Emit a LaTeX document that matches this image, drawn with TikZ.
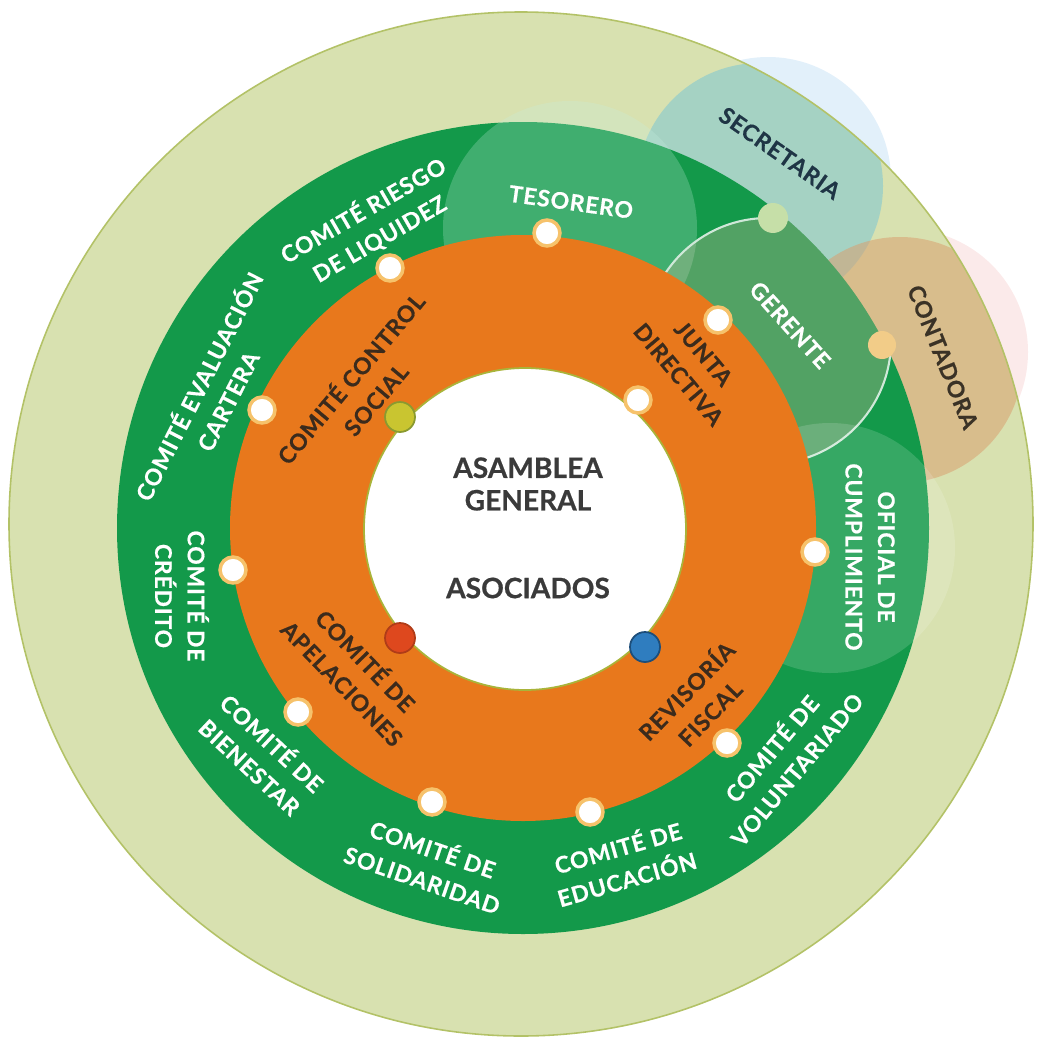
\documentclass[tikz,border=0pt]{standalone}
\usepackage{fontspec}
\setmainfont{Lato}[BoldFeatures={FakeBold=0.6}]
\newfontfamily\lblfont[LetterSpace=4.0, BoldFeatures={FakeBold=0.6}]{Lato}
\definecolor{pale}{HTML}{D8E1B0}
\definecolor{rim}{HTML}{B3C267}
\definecolor{ringgreen}{HTML}{13994A}
\definecolor{ringorange}{HTML}{E8781C}
\definecolor{innerrim}{HTML}{A9B43A}
\definecolor{secfill}{HTML}{7CC6D4}
\definecolor{secfaint}{HTML}{A0CDF0}
\definecolor{confill}{HTML}{D8A070}
\definecolor{confaint}{HTML}{F0AAAA}
\definecolor{tesfill}{HTML}{C8F0E0}
\definecolor{gerfill}{HTML}{C8B496}
\definecolor{gerline}{HTML}{CFE8D8}
\definecolor{dottrim}{HTML}{F6C26B}
\definecolor{dotolive}{HTML}{C9C530}
\definecolor{dotolivetrim}{HTML}{8A9A30}
\definecolor{dotred}{HTML}{DE481E}
\definecolor{dotredtrim}{HTML}{B03C18}
\definecolor{dotblue}{HTML}{2F7DBF}
\definecolor{dotbluetrim}{HTML}{1D4E7A}
\definecolor{dotsec}{HTML}{C6DFA8}
\definecolor{dotcon}{HTML}{F2CC88}
\definecolor{inkbrown}{HTML}{3B2B1C}
\definecolor{inksec}{HTML}{1F3545}
\definecolor{inkcon}{HTML}{3A3226}
\definecolor{inkmid}{HTML}{3A3A3A}
\begin{document}
\begin{tikzpicture}[x=0.02cm, y=-0.02cm,
  lbl/.style={font=\lblfont\bfseries\fontsize{13}{18.5}\selectfont, align=center, inner sep=0pt, text=white},
  dark/.style={lbl, text=inkbrown},
  mid/.style={font=\bfseries\fontsize{16}{18.5}\selectfont, align=center, inner sep=0pt, text=inkmid},
  wdot/.style={circle, inner sep=0pt, minimum size=0.52cm, fill=white, draw=dottrim, line width=2pt},
  cdot/.style={circle, inner sep=0pt, minimum size=0.6cm, line width=1pt}]
\useasboundingbox (0,0) rectangle (1037,1041);
\fill[secfaint, fill opacity=0.3] (768,180) circle (123);
\fill[confaint, fill opacity=0.25] (905,352) circle (123);
\fill[pale] (521,524) circle (512);
\begin{scope}
\clip (521,524) circle (512);
\fill[secfill, fill opacity=0.55] (760,186) circle (123);
\fill[confill, fill opacity=0.55] (900,360) circle (123);
\end{scope}
\draw[rim, line width=0.9pt] (521,524) circle (512);
\fill[ringgreen] (523,528) circle (406);
\fill[tesfill, fill opacity=0.25] (570,228) circle (127);
\begin{scope}
\clip (523,528) circle (406);
\filldraw[fill=gerfill, fill opacity=0.35, draw=gerline, line width=1.2pt] (768,341) circle (123);
\end{scope}
\fill[white, fill opacity=0.15] (830,548) circle (125);
\fill[ringorange] (523,528) circle (293);
\filldraw[fill=white, draw=innerrim, line width=1pt] (525,529) circle (161);

\node[wdot] (dtes) at (547,233) {};
\node[wdot] (dliq) at (390,268) {};
\node[wdot] (dcart) at (262,410) {};
\node[wdot] (dcred) at (233,570) {};
\node[wdot] (dbien) at (298,712) {};
\node[wdot] (dsoli) at (432,802) {};
\node[wdot] (dedu) at (590,812) {};
\node[wdot] (dvolu) at (727,743) {};
\node[wdot] (dofi) at (815,552) {};
\node[wdot] (djun) at (718,320) {};
\node[wdot] (ddir) at (638,400) {};
\node[cdot, fill=dotolive, draw=dotolivetrim] (dctrl) at (400,417) {};
\node[cdot, fill=dotred, draw=dotredtrim] (dapel) at (400,638) {};
\node[cdot, fill=dotblue, draw=dotbluetrim] (drevi) at (645,647) {};
\node[circle, inner sep=0pt, minimum size=0.6cm, fill=dotsec] (dsec) at (773,218) {};
\node[circle, inner sep=0pt, minimum size=0.56cm, fill=dotcon] (dcon) at (882,345) {};

\node[lbl, rotate=30] (liq) at (371,224) {COMITÉ RIESGO\\DE LIQUIDEZ};
\node[lbl, rotate=63] (cart) at (212,393) {COMITÉ EVALUACIÓN\\CARTERA};
\node[lbl, rotate=-90] (cred) at (182,596) {COMITÉ DE\\CRÉDITO};
\node[lbl, rotate=-43] (bien) at (262,754) {COMITÉ DE\\BIENESTAR};
\node[lbl, rotate=-19] (soli) at (428,863) {COMITÉ DE\\SOLIDARIDAD};
\node[lbl, rotate=16] (edu) at (622,862) {COMITÉ DE\\EDUCACIÓN};
\node[lbl, rotate=50] (volu) at (783,758) {COMITÉ DE\\VOLUNTARIADO};
\node[lbl, rotate=-90] (ofi) at (870,557) {OFICIAL DE\\CUMPLIMIENTO};
\node[lbl, rotate=-8] (tes) at (571,202) {TESORERO};
\node[lbl, rotate=-48] (ger) at (790,325) {GERENTE};
\node[lbl, rotate=-35, text=inksec] (sec) at (780,153) {SECRETARIA};
\node[lbl, rotate=-68, text=inkcon] (con) at (943,357) {CONTADORA};
\node[dark, rotate=50] (ctrl) at (362,388) {COMITÉ CONTROL\\SOCIAL};
\node[dark, rotate=-50] (junta) at (691,364) {JUNTA\\DIRECTIVA};
\node[dark, rotate=-46] (apel) at (355,671) {COMITÉ DE\\APELACIONES};
\node[dark, rotate=46] (revi) at (697,701) {REVISORÍA\\FISCAL};
\node[mid] (asam) at (528,484) {ASAMBLEA\\GENERAL};
\node[mid] (asoc) at (528,588) {ASOCIADOS};
\end{tikzpicture}
\end{document}
